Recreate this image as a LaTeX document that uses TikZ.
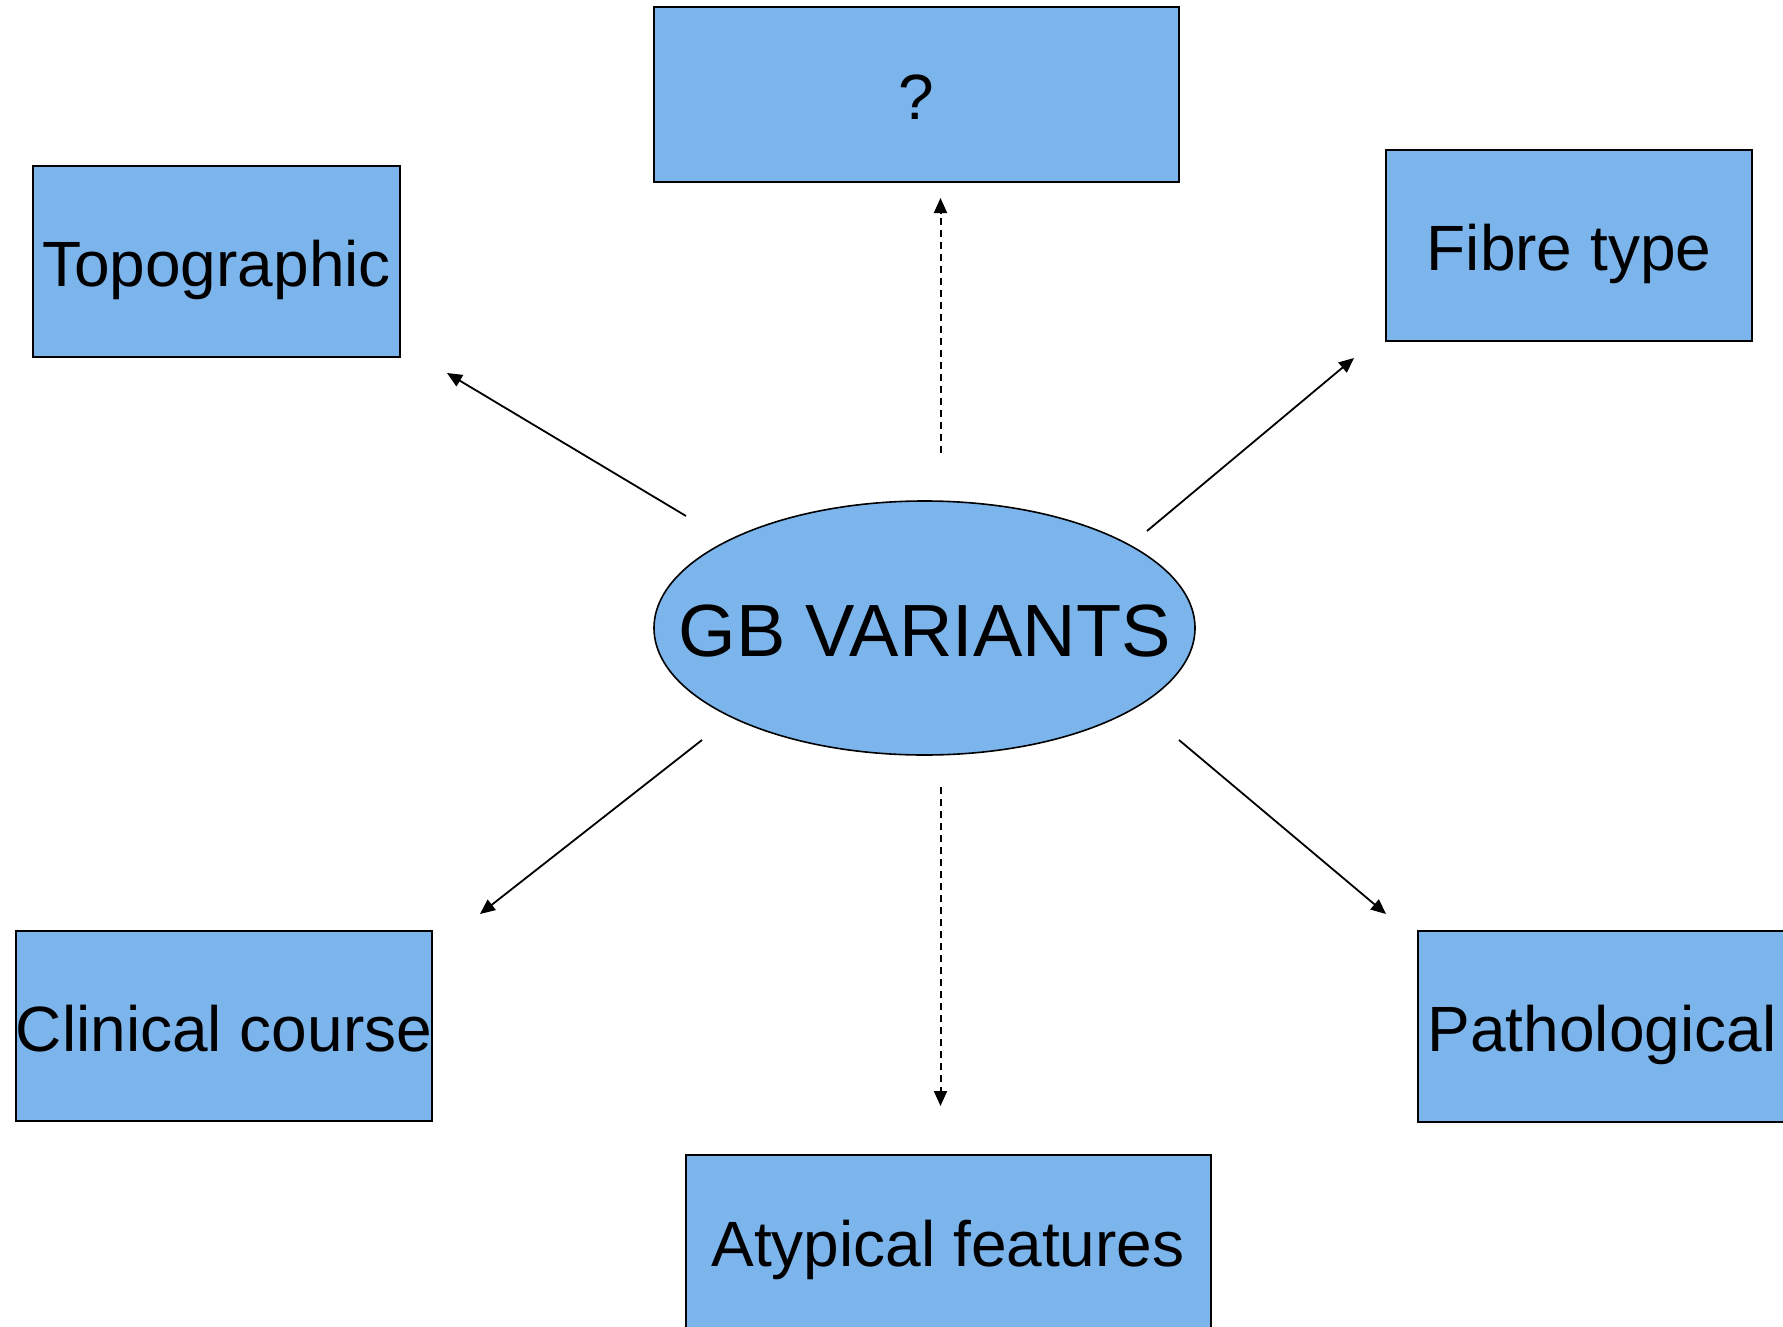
\documentclass[tikz,border=0pt]{standalone}
\usepackage{fontspec}
\setmainfont{Liberation Sans}
\usetikzlibrary{arrows.meta,shapes.geometric}
\definecolor{boxblue}{HTML}{7CB4EC}
\tikzset{
  box/.style={draw=black,line width=1.6pt,fill=boxblue,inner sep=0pt,
    font=\fontsize{64}{70}\selectfont,text height=50pt,text depth=0pt},
  arr/.style={line width=1.8pt,-{Triangle[length=15pt,width=13pt]}},
  darr/.style={arr,line width=2pt,dash pattern=on 7pt off 5pt}
}
\begin{document}
\begin{tikzpicture}[x=1pt,y=-1pt]
\useasboundingbox (0,0) rectangle (1783,1327);
% boxes
\node[box,minimum width=525pt,minimum height=175pt] (q) at (916.5,94.5) {?};
\node[box,minimum width=367pt,minimum height=191pt] (topo) at (216.5,261.5) {Topographic};
\node[box,minimum width=366pt,minimum height=191pt] (fibre) at (1569,245.5) {Fibre type};
\node[box,minimum width=414pt,minimum height=190pt] (clin) at (224,1026) {Clinical course};
\node[box,minimum width=368pt,minimum height=191pt] (path) at (1602,1026.5) {Pathological};
\node[box,minimum width=525pt,minimum height=190pt] (atyp) at (948.5,1250) {};
\node[font=\fontsize{64}{70}\selectfont,anchor=base,inner sep=0pt] (atyplbl) at (948,1266) {Atypical features};
% ellipse
\node[ellipse,draw=black,line width=1.6pt,fill=boxblue,minimum width=541pt,minimum height=254pt,inner sep=0pt] (gb) at (924.5,628) {};
\node[font=\fontsize{74}{80}\selectfont,anchor=base,inner sep=0pt] (gblbl) at (924.5,656) {GB VARIANTS};
% connector ends
\coordinate (s1) at (686,516);  \coordinate (e1) at (447,373);
\coordinate (s2) at (940.5,453); \coordinate (e2) at (940.5,198);
\coordinate (s3) at (1147,531); \coordinate (e3) at (1354,358);
\coordinate (s4) at (702,740);  \coordinate (e4) at (480,914);
\coordinate (s5) at (940.5,787); \coordinate (e5) at (940.5,1106);
\coordinate (s6) at (1179,740); \coordinate (e6) at (1386,914);
\draw[arr] (s1) -- (e1);
\draw[darr] (s2) -- (e2);
\draw[arr] (s3) -- (e3);
\draw[arr] (s4) -- (e4);
\draw[darr] (s5) -- (e5);
\draw[arr] (s6) -- (e6);
\end{tikzpicture}
\end{document}
